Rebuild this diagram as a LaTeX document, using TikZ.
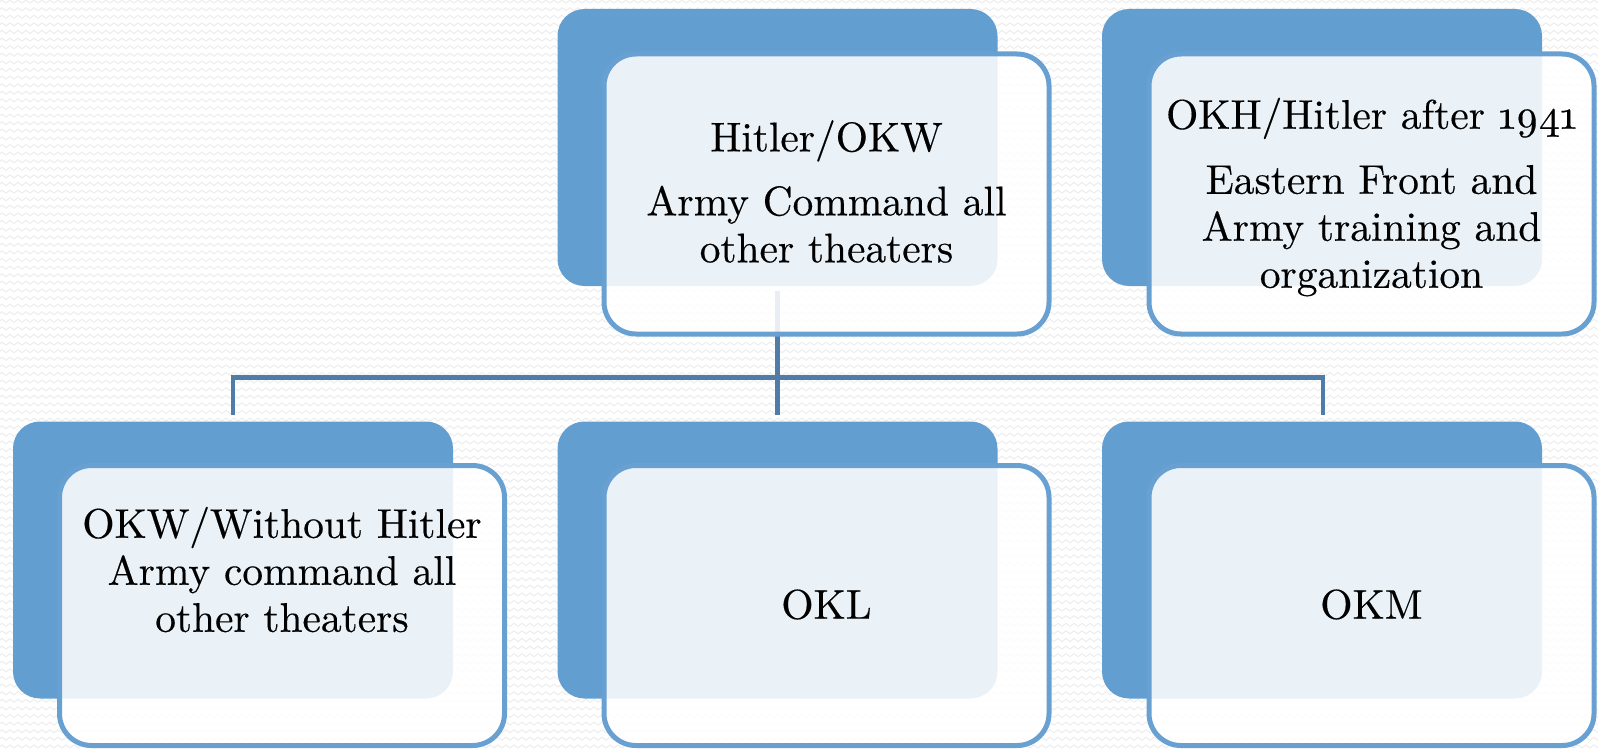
\documentclass[tikz,border=0pt]{standalone}
\usepackage{fontspec}
\newfontfamily\boxfont{lmroman10-regular}[Extension=.otf, FakeBold=0.35]
\usetikzlibrary{patterns}
\definecolor{boxblue}{RGB}{99,158,208}
\definecolor{rimblue}{RGB}{104,160,209}
\definecolor{connblue}{RGB}{80,125,168}
\definecolor{wavegray}{RGB}{236,236,236}
\pgfdeclarepatternformonly{bgwaves}{\pgfqpoint{-1pt}{-1pt}}{\pgfqpoint{5pt}{4.8pt}}{\pgfqpoint{4pt}{3.8pt}}{%
  \pgfsetlinewidth{0.45pt}%
  \pgfpathmoveto{\pgfqpoint{0pt}{1.3pt}}%
  \pgfpathcurveto{\pgfqpoint{0.6pt}{2.3pt}}{\pgfqpoint{1.4pt}{2.3pt}}{\pgfqpoint{2pt}{1.3pt}}%
  \pgfpathcurveto{\pgfqpoint{2.6pt}{0.3pt}}{\pgfqpoint{3.4pt}{0.3pt}}{\pgfqpoint{4pt}{1.3pt}}%
  \pgfusepath{stroke}%
}
\tikzset{
  backbox/.style={fill=boxblue, draw=none, rounded corners=13.5pt, minimum width=220pt, minimum height=138.5pt, inner sep=0pt, rectangle},
  frontbox/.style={draw=rimblue, line width=2.5pt, fill=white, fill opacity=0.87, rounded corners=16pt, minimum width=222.5pt, minimum height=140pt, inner sep=0pt, rectangle},
  txt/.style={align=center, inner sep=0pt, text=black, font=\boxfont\fontsize{20.7pt}{23.5pt}\selectfont},
  conn/.style={draw=connblue, line width=2.3pt},
}
\begin{document}
\begin{tikzpicture}[x=0.5pt, y=-0.5pt]
\useasboundingbox (0,0) rectangle (1598,749);
\fill[white] (0,0) rectangle (1598,749);
\fill[pattern=bgwaves, pattern color=wavegray] (0,0) rectangle (1598,749);

% connectors
\coordinate (stub) at (777.5,291);
\coordinate (hub) at (777.5,377.5);
\coordinate (leftend) at (233,415);
\coordinate (midend) at (777.5,415);
\coordinate (rightend) at (1323,415);
\draw[conn] (stub) -- (midend);
\draw[conn] (leftend) -- (leftend |- hub) -- (rightend |- hub) -- (rightend);

% top middle
\node[backbox] (d2) at (777.5,147.5) {};
\node[frontbox] (b2) at (826.5,194) {};
\node[txt] (t2) at (826.5,191.5) {Hitler/OKW\\[8.5pt]Army Command all\\other theaters};

% top right
\node[backbox] (d3) at (1322,147.5) {};
\node[frontbox] (b3) at (1371.5,194) {};
\node[txt] (t3) at (1371.5,197) {OKH/Hitler after \oldstylenums{1941}\\[9pt]Eastern Front and\\Army training and\\organization};

% bottom left
\node[backbox] (d1) at (233,560) {};
\node[frontbox] (b1) at (282,605.5) {};
\node[txt] (t1) at (282,569.5) {OKW/Without Hitler\\Army command all\\other theaters};

% bottom middle
\node[backbox] (d4) at (777.5,560) {};
\node[frontbox] (b4) at (826.5,605.5) {};
\node[txt] (t4) at (826.5,604.5) {OKL};

% bottom right
\node[backbox] (d5) at (1322,560) {};
\node[frontbox] (b5) at (1371.5,605.5) {};
\node[txt] (t5) at (1371.5,604.5) {OKM};
\end{tikzpicture}
\end{document}
